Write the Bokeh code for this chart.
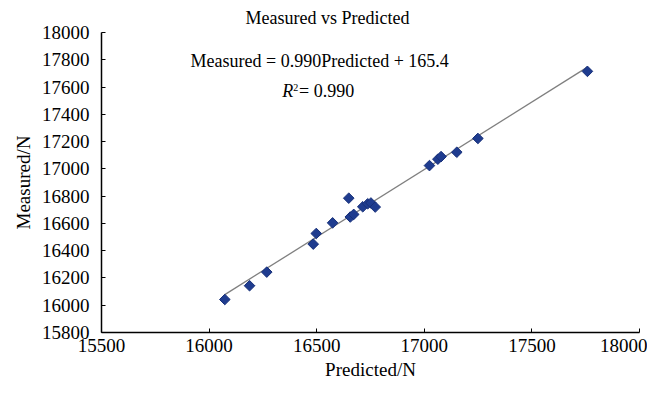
import math
from bokeh.plotting import figure
from bokeh.models import Range1d, FixedTicker, Label, ColumnDataSource, Title
from bokeh.embed import file_html
from bokeh.resources import INLINE

# Data
predicted = [16073, 16188, 16268, 16484, 16498, 16574, 16649, 16656, 16672,
             16714, 16737, 16752, 16772, 17024, 17063, 17078, 17151, 17249, 17758]
measured = [16042, 16143, 16243, 16448, 16526, 16604, 16785, 16647, 16666,
            16722, 16744, 16750, 16720, 17024, 17071, 17090, 17122, 17223, 17715]
slope = 0.990
intercept = 165.4
r2 = 0.990
x_ticks = [15500, 16000, 16500, 17000, 17500, 18000]
y_ticks = [15800, 16000, 16200, 16400, 16600, 16800, 17000, 17200, 17400, 17600, 17800, 18000]

FONT = "Liberation Serif"

p = figure(width=647, height=386, output_backend="svg", toolbar_location=None,
           x_range=Range1d(x_ticks[0], x_ticks[-1]),
           y_range=Range1d(y_ticks[0], y_ticks[-1]),
           min_border_left=101, min_border_right=8, min_border_top=0,
           min_border_bottom=0)
p.outline_line_color = None
p.xgrid.visible = False
p.ygrid.visible = False
p.background_fill_color = "white"
p.border_fill_color = "white"

p.title.text = "Measured vs Predicted"
p.title.text_font = FONT
p.title.text_font_style = "normal"
p.title.text_font_size = "18px"
p.title.align = "left"
p.title.offset = 144
p.title.text_color = "black"

for ax, ticks in ((p.xaxis[0], x_ticks), (p.yaxis[0], y_ticks)):
    ax.ticker = FixedTicker(ticks=ticks)
    ax.axis_label_text_font = FONT
    ax.axis_label_text_font_style = "normal"
    ax.axis_label_text_font_size = "19px"
    ax.axis_label_text_color = "black"
    ax.major_label_text_font = FONT
    ax.major_label_text_font_size = "19px"
    ax.major_label_text_color = "black"
    ax.axis_line_color = "black"
    ax.axis_line_width = 1.5
    ax.major_tick_in = 4
    ax.major_tick_out = 0
    ax.major_tick_line_color = "black"
    ax.minor_tick_line_color = None
p.yaxis[0].axis_label = "Measured/N"
p.yaxis[0].major_label_standoff = 12
p.yaxis[0].axis_label_standoff = 5
p.xaxis[0].major_label_standoff = 6

x_title = Title(text="Predicted/N", align="center", text_font=FONT, text_font_size="19px",
                text_font_style="normal", text_color="black", standoff=9,
                vertical_align="top")
p.add_layout(x_title, "below")

# regression line over the data span
x0, x1 = min(predicted), max(predicted)
line_src = ColumnDataSource(dict(x=[x0, x1], y=[slope * x0 + intercept, slope * x1 + intercept]))
p.line("x", "y", source=line_src, line_color="#7f7f7f", line_width=1.3)

pts = ColumnDataSource(dict(x=predicted, y=measured))
p.scatter("x", "y", source=pts, marker="square", size=7.5, angle=math.pi / 4,
          fill_color="#1f3c8f", line_color="#17307a", line_width=1)

eq = Label(x=16514, y=17790, text=f"Measured = {slope:.3f}Predicted + {intercept:.1f}",
           text_font=FONT, text_font_size="18px", text_align="center", text_baseline="middle",
           text_color="black")
p.add_layout(eq)
r_lab = Label(x=16391, y=17570, text="R", text_font=FONT, text_font_style="italic",
              text_font_size="18px", text_align="right", text_baseline="middle", text_color="black")
p.add_layout(r_lab)
r2_sup = Label(x=16391, y=17596, text="2", text_font=FONT,
               text_font_size="10px", text_align="left", text_baseline="middle", text_color="black")
p.add_layout(r2_sup)
r2_lab = Label(x=16418, y=17570, text=f"= {r2:.3f}", text_font=FONT,
               text_font_size="18px", text_align="left", text_baseline="middle", text_color="black")
p.add_layout(r2_lab)

open("out.html", "w").write(file_html(p, INLINE))
